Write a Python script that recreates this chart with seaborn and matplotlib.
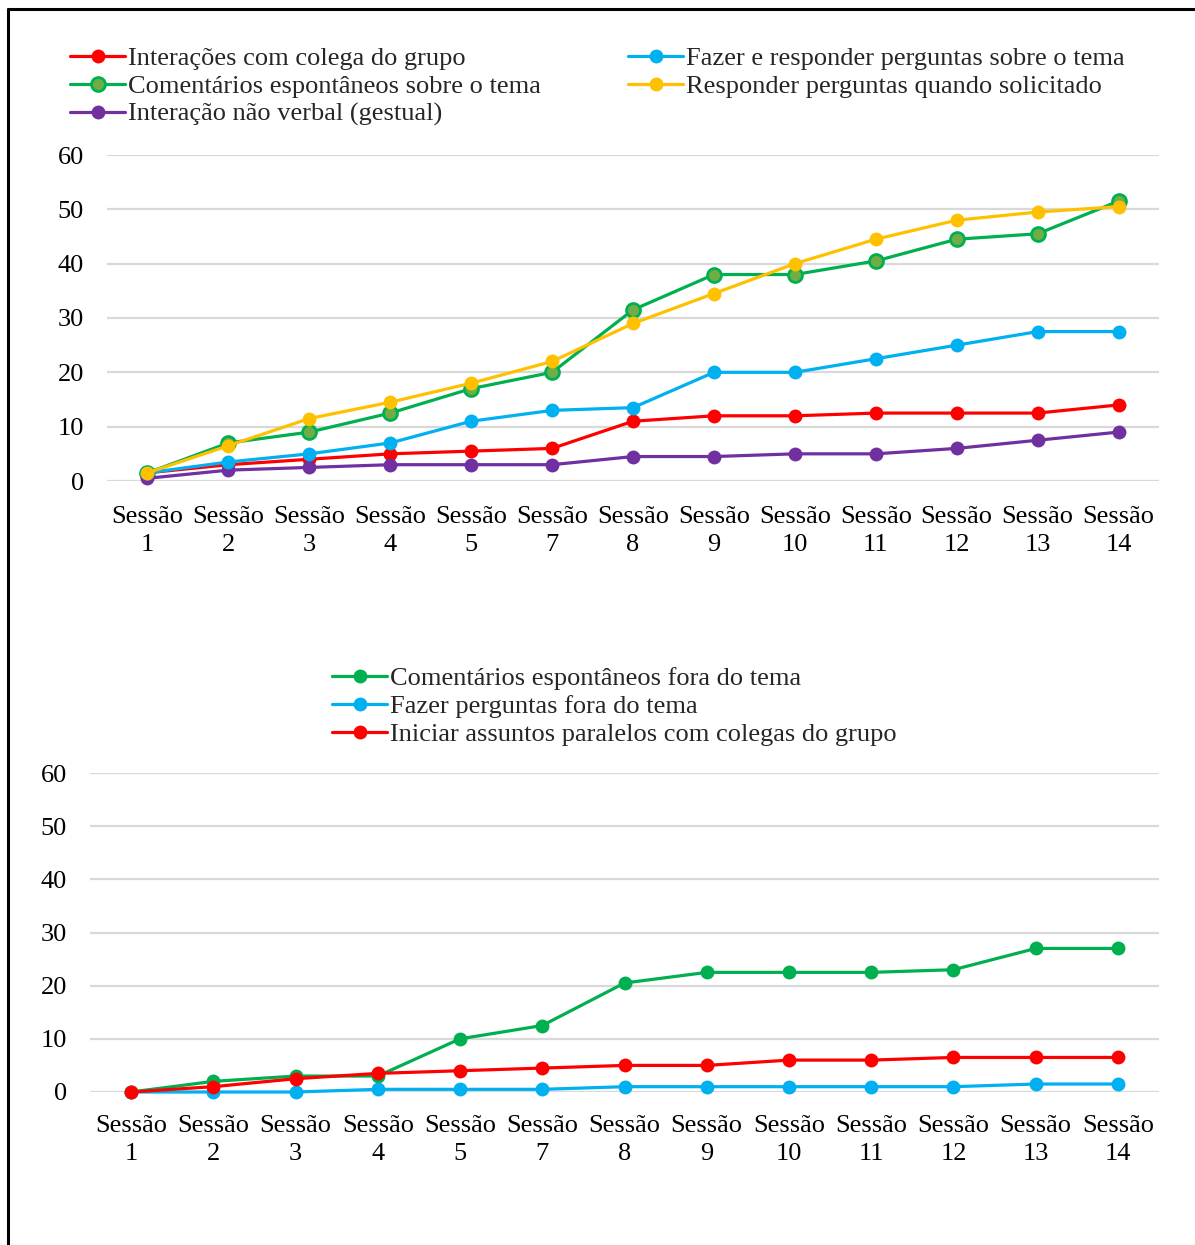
import numpy as np
import pandas as pd
import matplotlib
matplotlib.use("Agg")
import matplotlib.pyplot as plt
from matplotlib.lines import Line2D
import seaborn as sns

sessions = ["1", "2", "3", "4", "5", "7", "8", "9", "10", "11", "12", "13", "14"]
tick_labels = ["Sessão\n" + s for s in sessions]

# Upper panel: on-topic participation
interacoes_colega = [1.5, 3, 4, 5, 5.5, 6, 11, 12, 12, 12.5, 12.5, 12.5, 14]
comentarios_tema = [1.5, 7, 9, 12.5, 17, 20, 31.5, 38, 38, 40.5, 44.5, 45.5, 51.5]
nao_verbal = [0.5, 2, 2.5, 3, 3, 3, 4.5, 4.5, 5, 5, 6, 7.5, 9]
fazer_responder = [1.5, 3.5, 5, 7, 11, 13, 13.5, 20, 20, 22.5, 25, 27.5, 27.5]
responder_solicitado = [1.5, 6.5, 11.5, 14.5, 18, 22, 29, 34.5, 40, 44.5, 48, 49.5, 50.5]

# Lower panel: off-topic participation
comentarios_fora = [0, 2, 3, 3, 10, 12.5, 20.5, 22.5, 22.5, 22.5, 23, 27, 27]
perguntas_fora = [0, 0, 0, 0.5, 0.5, 0.5, 1, 1, 1, 1, 1, 1.5, 1.5]
assuntos_paralelos = [0, 1, 2.5, 3.5, 4, 4.5, 5, 5, 6, 6, 6.5, 6.5, 6.5]

RED = "#FF0000"
GREEN = "#00B050"
OLIVE = "#70AD47"
PURPLE = "#7030A0"
BLUE = "#00B0F0"
YELLOW = "#FFC000"

sns.set_theme(style="white")
plt.rcParams["font.family"] = ["Liberation Serif", "DejaVu Serif"]
plt.rcParams["font.size"] = 19

fig = plt.figure(figsize=(11.95, 12.45), dpi=100)
W, H = 1195, 1245

def add_axes(left, top, right, bottom):
    return fig.add_axes([left / W, 1 - bottom / H, (right - left) / W, (bottom - top) / H])

ax1 = add_axes(107, 155, 1159, 481)
ax2 = add_axes(90, 773, 1159, 1092)

x = np.arange(len(sessions))

def draw(ax, values, color, label, face=None):
    df = pd.DataFrame({"x": x, "y": values})
    sns.lineplot(data=df, x="x", y="y", ax=ax, color=color, linewidth=2.3,
                 marker="o", markersize=10,
                 markerfacecolor=face if face else color,
                 markeredgecolor=color, markeredgewidth=2 if face else 0,
                 clip_on=False, label=label, legend=False)

def style(ax, xpad):
    ax.set_xlim(-0.5, len(sessions) - 0.5)
    ax.set_ylim(0, 60)
    ax.set_yticks(range(0, 61, 10))
    ax.set_xticks(x)
    ax.set_xticklabels(tick_labels, linespacing=1.35)
    ax.set_xlabel("")
    ax.set_ylabel("")
    ax.grid(axis="y", color="#D9D9D9", linewidth=1.6)
    ax.set_axisbelow(True)
    for s in ax.spines.values():
        s.set_visible(False)
    ax.tick_params(axis="both", length=0, labelsize=19, colors="black")
    ax.tick_params(axis="y", pad=16.5)
    ax.tick_params(axis="x", pad=xpad)

draw(ax1, interacoes_colega, RED, "Interações com colega do grupo")
draw(ax1, comentarios_tema, GREEN, "Comentários espontâneos sobre o tema", face=OLIVE)
draw(ax1, nao_verbal, PURPLE, "Interação não verbal (gestual)")
draw(ax1, fazer_responder, BLUE, "Fazer e responder perguntas sobre o tema")
draw(ax1, responder_solicitado, YELLOW, "Responder perguntas quando solicitado")
style(ax1, 18)

draw(ax2, comentarios_fora, GREEN, "Comentários espontâneos fora do tema")
draw(ax2, perguntas_fora, BLUE, "Fazer perguntas fora do tema")
draw(ax2, assuntos_paralelos, RED, "Iniciar assuntos paralelos com colegas do grupo")
style(ax2, 16.5)

def handle(color, face=None):
    return Line2D([], [], color=color, linewidth=2.3, marker="o", markersize=10,
                  markerfacecolor=face if face else color, markeredgecolor=color,
                  markeredgewidth=2 if face else 0)

h1 = [handle(RED), handle(GREEN, OLIVE), handle(PURPLE), handle(BLUE), handle(YELLOW)]
l1 = ["Interações com colega do grupo", "Comentários espontâneos sobre o tema",
      "Interação não verbal (gestual)", "Fazer e responder perguntas sobre o tema",
      "Responder perguntas quando solicitado"]
fig.legend(h1, l1, loc="upper left", bbox_to_anchor=(70 / W, 1 - 47 / H), ncol=2,
           frameon=False, borderpad=0, borderaxespad=0, handlelength=2.1,
           handletextpad=0.1, labelspacing=0.16, columnspacing=3.3, fontsize=19)

h2 = [handle(GREEN), handle(BLUE), handle(RED)]
l2 = ["Comentários espontâneos fora do tema", "Fazer perguntas fora do tema",
      "Iniciar assuntos paralelos com colegas do grupo"]
fig.legend(h2, l2, loc="upper left", bbox_to_anchor=(332 / W, 1 - 667 / H), ncol=1,
           frameon=False, borderpad=0, borderaxespad=0, handlelength=2.1,
           handletextpad=0.1, labelspacing=0.17, fontsize=19)

# outer frame (left and top edges)
fig.add_artist(Line2D([7.5 / W, 7.5 / W], [0, 1 - 8.5 / H], color="black", linewidth=2.2,
                      transform=fig.transFigure))
fig.add_artist(Line2D([7.5 / W, 1], [1 - 8.5 / H, 1 - 8.5 / H], color="black", linewidth=2.2,
                      transform=fig.transFigure))

fig.savefig("out.png", dpi=100, facecolor="white")
